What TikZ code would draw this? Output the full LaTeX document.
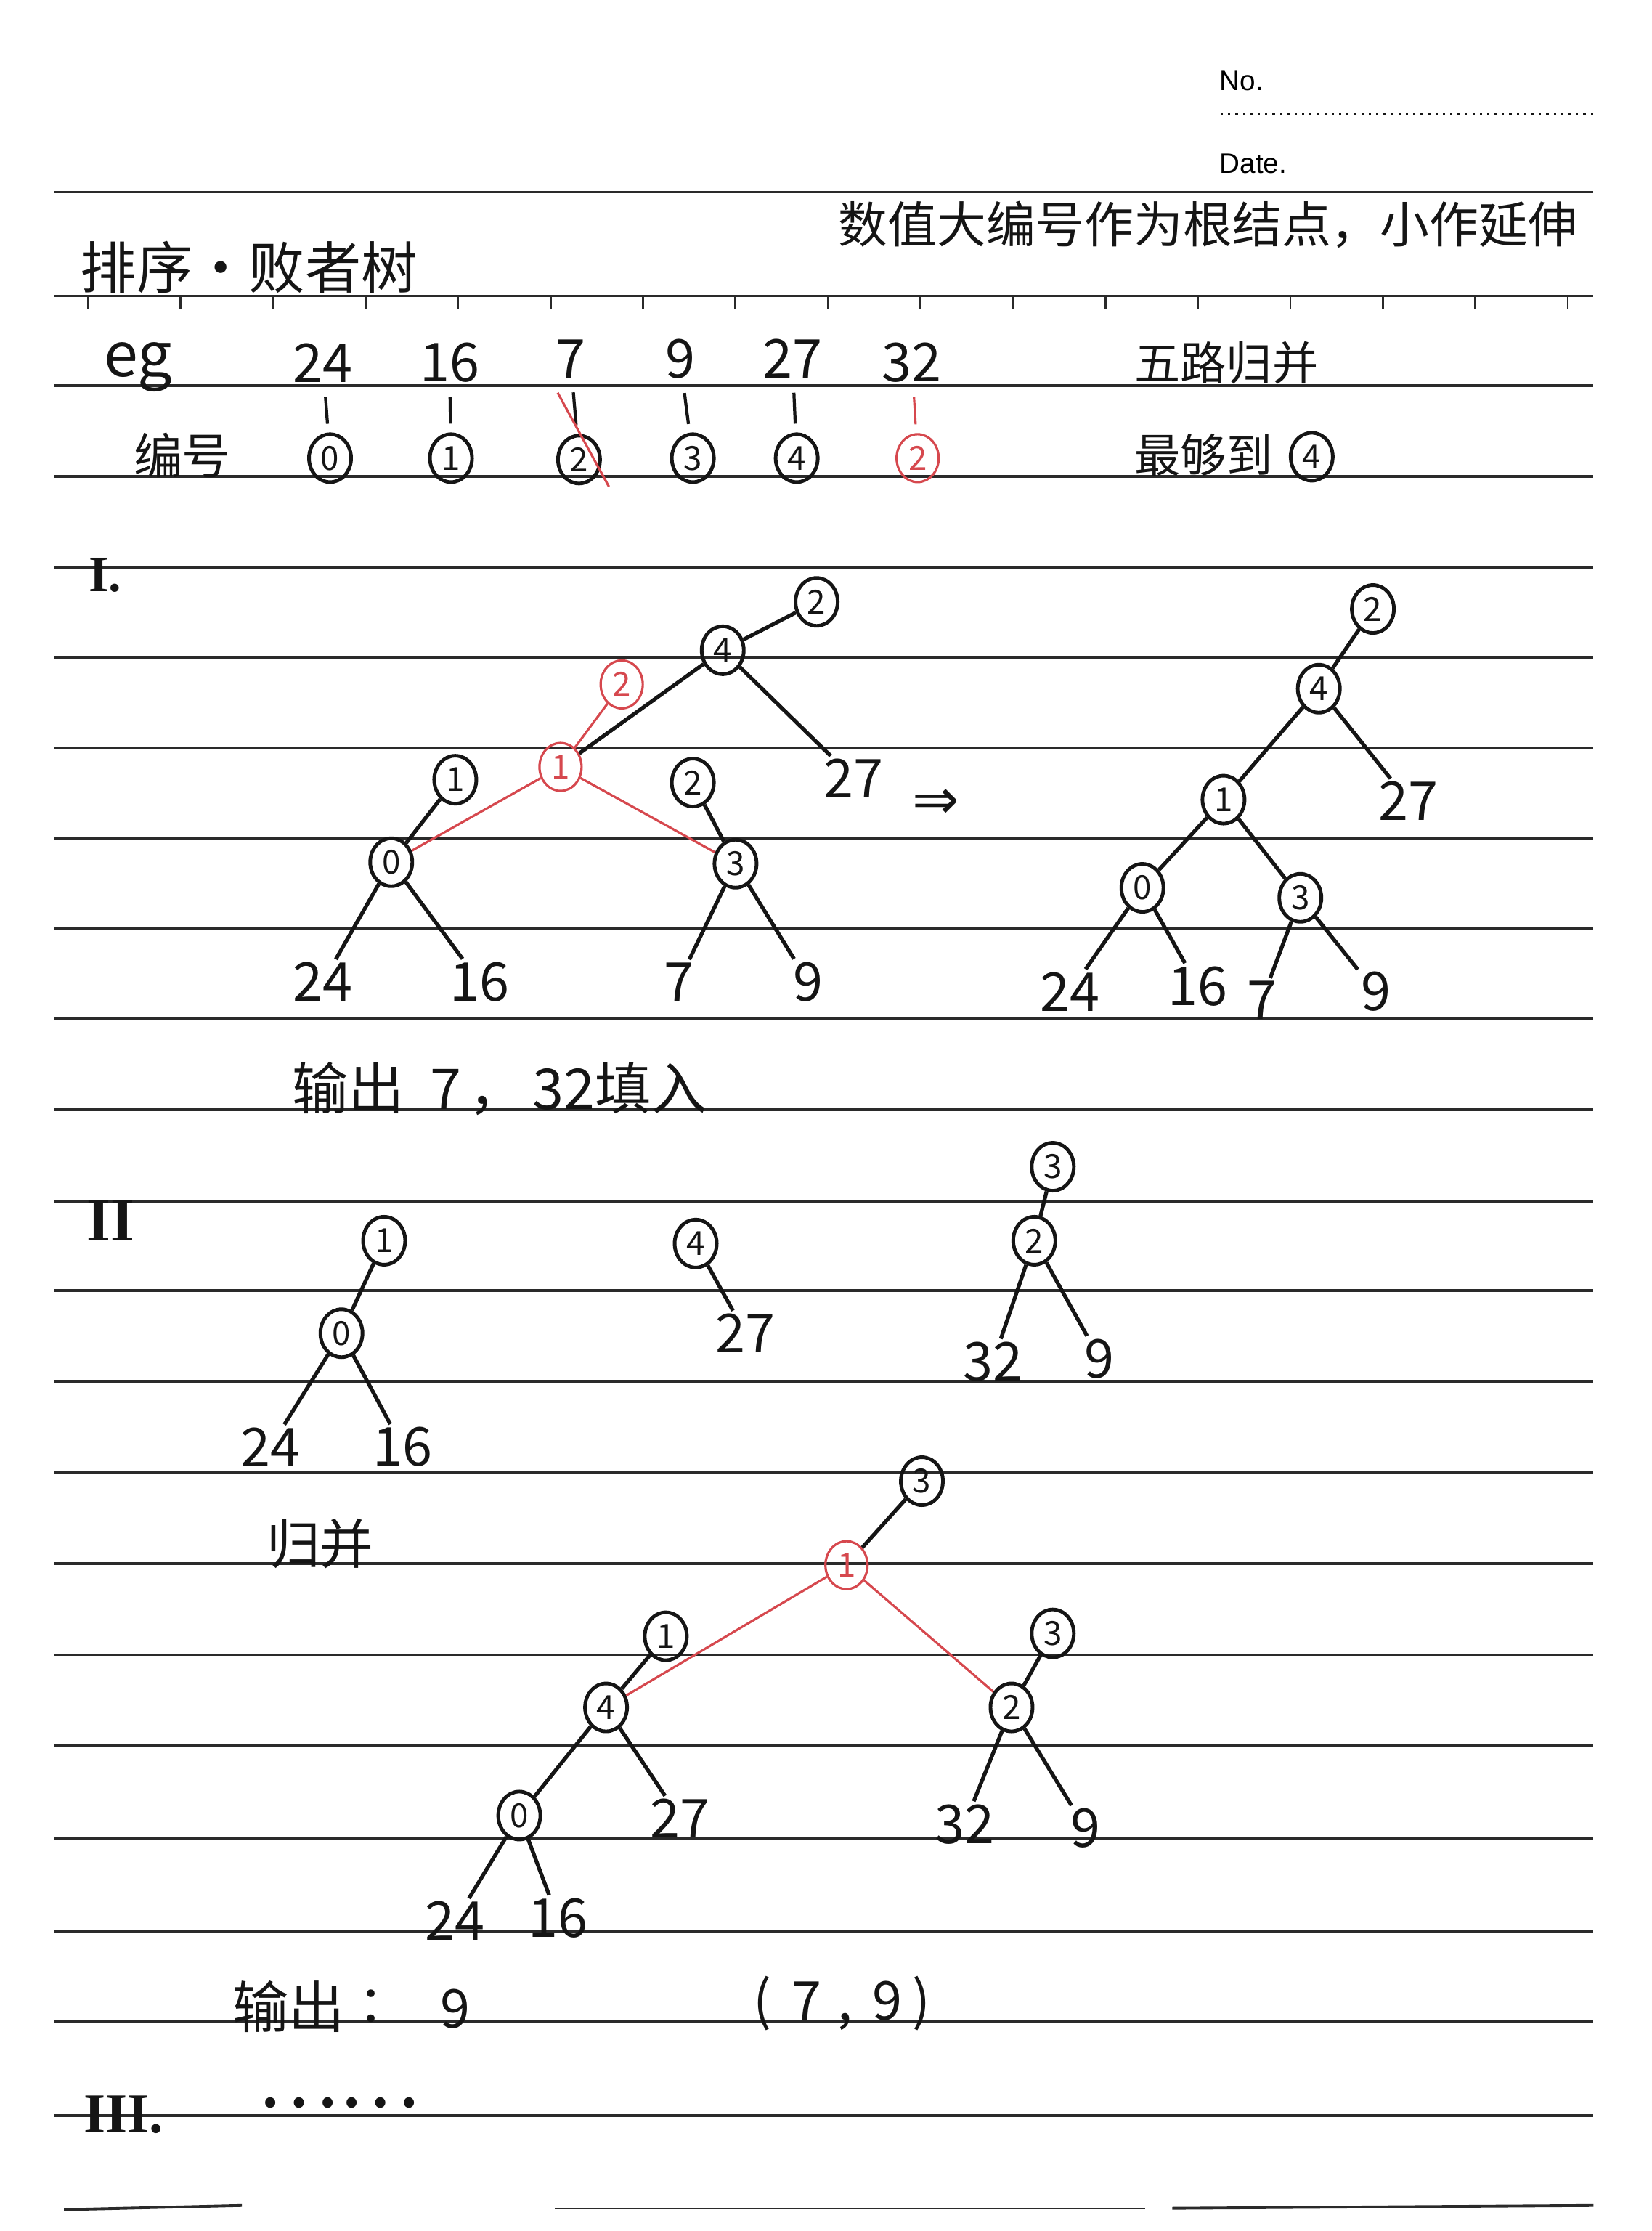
\documentclass[tikz,border=0pt]{standalone}
\usepackage{fontspec}
\setmainfont{Liberation Sans}
\newfontfamily\hw{Noto Sans CJK SC}
\newfontfamily\sym{DejaVu Sans}
\newfontfamily\rom{Liberation Serif}
\usetikzlibrary{shapes.geometric}
\definecolor{pen}{HTML}{151515}
\definecolor{redpen}{HTML}{D6484E}
\definecolor{rulec}{HTML}{2A2A2A}
\begin{document}
\begin{tikzpicture}[x=0.019595cm,y=-0.019595cm,
 rl/.style={draw=rulec,line width=1.1pt},
 cn/.style={ellipse,draw=pen,line width=1.4pt,minimum width=0.58cm,minimum height=0.66cm,inner sep=0pt,text=pen,font=\hw\fontsize{13}{13}\selectfont},
 rcn/.style={cn,draw=redpen,text=redpen,line width=0.9pt},
 lf/.style={inner sep=1pt,text=pen,font=\hw\fontsize{21}{21}\selectfont},
 hwt/.style={inner sep=0pt,text=pen,font=\hw\fontsize{#1}{#1}\selectfont},
 romt/.style={inner sep=0pt,text=pen,font=\rom\bfseries\fontsize{#1}{#1}\selectfont},
 ed/.style={draw=pen,line width=1.5pt},
 redge/.style={draw=redpen,line width=0.9pt},
 tick/.style={draw=pen,line width=1.2pt,shorten <=0.16cm,shorten >=0.12cm}
]
\fill[white] (0,0) rectangle (1161,1568);
\useasboundingbox (0,0) rectangle (1161,1568);

% header
\node[anchor=west,inner sep=0pt,font=\fontsize{11}{11}\selectfont] (no) at (857,57) {No.};
\node[anchor=west,inner sep=0pt,font=\fontsize{11}{11}\selectfont] (date) at (857,115) {Date.};
\draw[pen,line width=0.9pt,dotted] (858,80) -- (1122,80);

% ruled lines
\foreach \yy in {135,208,271,335,399,462,526,589,653,716,780,844,907,971,1035,1099,1163,1227,1292,1357,1421,1487}
  \draw[rl] (38,\yy) -- (1120,\yy);
\draw[rl] (45,1553) -- (170,1550);
\draw[rulec,line width=0.6pt] (390,1552) -- (805,1552);
\draw[rl] (824,1552) -- (1120,1550);
\foreach \k in {0,...,16}
  \draw[rulec,line width=0.8pt] ({62+65*\k},208) -- ++(0,9);

% titles
\node[hwt=22] (title) at (175,188) {排序·败者树};
\node[hwt=19.3] (note) at (849,158) {数值大编号作为根结点，小作延伸};

% example row
\node[hwt=24] (eg) at (97,258) {eg};
\node[lf] (v24) at (227,255) {24};
\node[lf] (v16) at (316,255) {16};
\node[lf] (v7) at (401,252) {7};
\node[lf] (v9) at (478,252) {9};
\node[lf] (v27) at (557,252) {27};
\node[lf] (v32) at (641,255) {32};
\node[hwt=18] (wl) at (862,255) {五路归并};
\node[hwt=19] (bh) at (128,320) {编号};
\node[cn] (n0) at (232,322) {0};
\node[cn] (n1) at (317,322) {1};
\node[cn] (n2) at (407,323) {2};
\node[cn] (n3) at (487,322) {3};
\node[cn] (n4) at (560,322) {4};
\node[rcn] (n2r) at (645,322) {2};
\draw[tick] (v24) -- (n0);
\draw[tick] (v16) -- (n1);
\draw[tick] (v7) -- (n2);
\draw[tick] (v9) -- (n3);
\draw[tick] (v27) -- (n4);
\draw[tick,draw=redpen,line width=0.9pt] (v32) -- (n2r);
\coordinate (s1) at (392,276);
\coordinate (s2) at (428,342);
\draw[redge] (s1) -- (s2);
\node[hwt=18] (zd) at (846,320) {最够到};
\node[cn] (zd4) at (922,321) {4};

% section I
\node[romt=20] (secI) at (74,404) {I.};
\node[cn] (a2) at (574,423) {2};
\node[cn] (a4) at (508,457) {4};
\node[rcn] (ar2) at (437,481) {2};
\node[rcn] (ar1) at (394,539) {1};
\node[cn] (a1) at (320,548) {1};
\node[cn] (a2b) at (487,550) {2};
\node[lf] (a27) at (600,547) {27};
\node[cn] (a0) at (275,606) {0};
\node[cn] (a3) at (517,607) {3};
\node[lf] (a24l) at (227,690) {24};
\node[lf] (a16l) at (337,690) {16};
\node[lf] (a7l) at (477,690) {7};
\node[lf] (a9l) at (568,690) {9};
\draw[ed] (a4) -- (a2);
\draw[ed] (a4) -- (a27);
\draw[ed] (a4) -- (ar1);
\draw[redge] (ar1) -- (ar2);
\draw[redge] (ar1) -- (a0);
\draw[redge] (ar1) -- (a3);
\draw[ed] (a1) -- (a0);
\draw[ed] (a2b) -- (a3);
\draw[ed] (a0) -- (a24l);
\draw[ed] (a0) -- (a16l);
\draw[ed] (a3) -- (a7l);
\draw[ed] (a3) -- (a9l);

\node[inner sep=0pt,text=pen,font=\sym\fontsize{22}{22}\selectfont] (arrow) at (658,565) {⇒};

\node[cn] (b2) at (965,428) {2};
\node[cn] (b4) at (927,484) {4};
\node[cn] (b1) at (860,562) {1};
\node[lf] (b27) at (990,563) {27};
\node[cn] (b0) at (803,624) {0};
\node[cn] (b3) at (914,631) {3};
\node[lf] (b24l) at (752,697) {24};
\node[lf] (b16l) at (842,693) {16};
\node[lf] (b7l) at (887,703) {7};
\node[lf] (b9l) at (967,697) {9};
\draw[ed] (b2) -- (b4);
\draw[ed] (b4) -- (b1);
\draw[ed] (b4) -- (b27);
\draw[ed] (b1) -- (b0);
\draw[ed] (b1) -- (b3);
\draw[ed] (b0) -- (b24l);
\draw[ed] (b0) -- (b16l);
\draw[ed] (b3) -- (b7l);
\draw[ed] (b3) -- (b9l);

\node[hwt=22,anchor=west] (out1) at (205,765) {输出\hspace{10pt}7\hspace{3pt}，\hspace{3pt}32填入};

% section II
\node[romt=24] (secII) at (78,858) {II};
\node[cn] (c1) at (270,872) {1};
\node[cn] (c0) at (240,937) {0};
\node[lf] (c24l) at (190,1017) {24};
\node[lf] (c16l) at (283,1017) {16};
\draw[ed] (c1) -- (c0);
\draw[ed] (c0) -- (c24l);
\draw[ed] (c0) -- (c16l);
\node[cn] (c4) at (489,874) {4};
\node[lf] (c27) at (524,937) {27};
\draw[ed] (c4) -- (c27);
\node[cn] (c3) at (740,820) {3};
\node[cn] (c2) at (727,872) {2};
\node[lf] (c32l) at (698,957) {32};
\node[lf] (c9l) at (773,955) {9};
\draw[ed] (c3) -- (c2);
\draw[ed] (c2) -- (c32l);
\draw[ed] (c2) -- (c9l);

\node[hwt=21] (gb) at (225,1085) {归并};
\node[cn] (d3) at (648,1041) {3};
\node[rcn] (dr1) at (595,1100) {1};
\node[cn] (d1) at (468,1150) {1};
\node[cn] (d3b) at (740,1148) {3};
\node[cn] (d4) at (426,1200) {4};
\node[cn] (d2) at (711,1200) {2};
\node[cn] (d0) at (365,1276) {0};
\node[lf] (d27) at (478,1278) {27};
\node[lf] (d32l) at (678,1282) {32};
\node[lf] (d9l) at (763,1285) {9};
\node[lf] (d24l) at (320,1350) {24};
\node[lf] (d16l) at (392,1348) {16};
\draw[ed] (d3) -- (dr1);
\draw[redge] (dr1) -- (d4);
\draw[redge] (dr1) -- (d2);
\draw[ed] (d1) -- (d4);
\draw[ed] (d3b) -- (d2);
\draw[ed] (d4) -- (d0);
\draw[ed] (d4) -- (d27);
\draw[ed] (d0) -- (d24l);
\draw[ed] (d0) -- (d16l);
\draw[ed] (d2) -- (d32l);
\draw[ed] (d2) -- (d9l);

\node[hwt=22] (out2) at (203,1410) {输出};
\node[hwt=20] (colon) at (270,1410) {：};
\node[lf] (out9) at (320,1412) {9};
\node[lf] (pair) at (592,1408) {(\hspace{8pt}7\hspace{6pt},\hspace{8pt}9\hspace{4pt})};

% section III
\node[romt=22] (secIII) at (87,1486) {III.};
\node[hwt=30] (dots) at (238,1478) {……};
\end{tikzpicture}
\end{document}
